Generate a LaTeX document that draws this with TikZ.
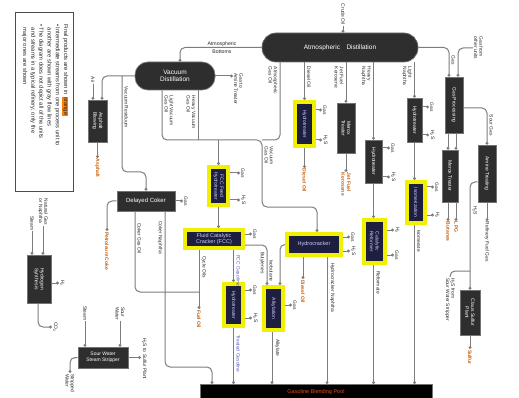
\documentclass[tikz,border=0pt]{standalone}
\usepackage{fontspec}
\setmainfont{Liberation Sans}
\usetikzlibrary{arrows.meta}
\definecolor{linegray}{RGB}{125,125,125}
\definecolor{boxdark}{RGB}{46,46,46}
\definecolor{navy}{RGB}{30,30,62}
\definecolor{hly}{RGB}{240,240,0}
\definecolor{lav}{RGB}{205,205,255}
\definecolor{prodor}{RGB}{200,96,10}
\definecolor{labgray}{RGB}{40,40,40}
\definecolor{bluelab}{RGB}{90,90,190}
\definecolor{poolred}{RGB}{225,80,30}
\tikzset{
 fl/.style={draw=linegray, line width=1pt, rounded corners=5pt, -{Circle[open,length=2.8pt,width=2.8pt]}},
 fj/.style={draw=linegray, line width=1pt, rounded corners=5pt},
 dbox/.style={draw=black!55, fill=boxdark, line width=0.7pt, inner sep=0pt, text=white},
 pill/.style={dbox, rounded corners=13pt, font=\fontsize{6.5}{7.5}\selectfont, align=center},
 ybox/.style={draw=hly, fill=navy, line width=4pt, inner sep=0pt, text=lav, font=\fontsize{5.5}{6.2}\selectfont, align=center},
 vtw/.style={rotate=-90, text=white, font=\fontsize{5}{5.6}\selectfont, align=center, inner sep=0pt},
 vty/.style={vtw, text=lav},
 slab/.style={rotate=-90, font=\fontsize{4.9}{5.4}\selectfont, inner sep=0.8pt, text=labgray, align=left},
 blab/.style={slab, text=bluelab},
 prod/.style={slab, text=prodor, font=\bfseries\fontsize{5}{5.6}\selectfont},
 hlab/.style={font=\fontsize{5.2}{8.5}\selectfont, text=labgray, align=center, inner sep=0pt},
 legbox/.style={draw=black!70, line width=1pt},
}
\newcommand\sideout[5]{\node[slab,anchor=south] (#1) at (#4,#3) {#5};\draw[fl] (#2.east |- #1.south) -- (#1.south);}
\newcommand\boxtext[3]{\node[#1] (#2T) at (#2) {#3};}
\begin{document}
\begin{tikzpicture}[x=1pt,y=-1pt]
\useasboundingbox (0,0) rectangle (519,398);
\fill[white] (0,0) rectangle (519,398);

% legend
\node[legbox, minimum width=58pt, minimum height=179pt] (legend) at (44,102.5) {};
\node[rotate=-90, anchor=north west, align=left, font=\fontsize{5.8}{8.2}\selectfont, text=labgray, inner sep=0pt] (legtext) at (68.5,24) {Final products are shown in {\setlength{\fboxsep}{0.5pt}\colorbox{orange}{orange}}\\• Intermediate streams from one process unit to\\\phantom{•} another are shown with gray flow lines\\• The diagram does not depict all of the units\\\phantom{•} and streams in a typical refinery; only the\\\phantom{•} major ones are shown};

% main units
\node[pill, minimum width=156pt, minimum height=29pt, rounded corners=14pt] (atm) at (340,47.5) {Atmospheric\quad Distillation};
\node[pill, minimum width=80pt, minimum height=28pt] (vac) at (175,76) {Vacuum\\Distillation};
\node[dbox, minimum width=19pt, minimum height=42pt] (asph) at (97.5,121) {};
\boxtext{vtw}{asph}{Asphalt\\Blowing}
\node[dbox, minimum width=58pt, minimum height=20pt, font=\fontsize{6}{7}\selectfont] (coker) at (146,201) {Delayed Coker};
\node[dbox, minimum width=24pt, minimum height=48pt] (h2syn) at (39,279) {};
\boxtext{vtw}{h2syn}{Hydrogen\\Synthesis}
\node[dbox, minimum width=50pt, minimum height=21pt, font=\fontsize{5}{6}\selectfont, align=center] (swss) at (103,357.5) {Sour Water\\Steam Stripper};
\node[ybox, minimum width=19pt, minimum height=38pt] (fccht) at (218.5,186) {};
\boxtext{vty}{fccht}{FCC Feed\\Hydrotreater}
\node[ybox, minimum width=58pt, minimum height=18pt] (fcc) at (214,239) {Fluid Catalytic\\Cracker (FCC)};
\node[ybox, minimum width=54pt, minimum height=21pt] (hc) at (314,244.5) {Hydrocracker};
\node[ybox, minimum width=19pt, minimum height=42pt] (htg) at (233.5,305) {};
\boxtext{vty}{htg}{Hydrotreater}
\node[ybox, minimum width=19pt, minimum height=43pt] (alk) at (273.5,308.5) {};
\boxtext{vty}{alk}{Alkylation}
\node[ybox, minimum width=19pt, minimum height=44pt] (dht) at (304.5,124) {};
\boxtext{vty}{dht}{Hydrotreater}
\node[dbox, minimum width=18pt, minimum height=50pt] (merox1) at (346,128) {};
\boxtext{vtw}{merox1}{Merox\\Treater}
\node[dbox, minimum width=17pt, minimum height=43pt] (nht) at (373.5,161.5) {};
\boxtext{vtw}{nht}{Hydrotreater}
\node[ybox, minimum width=21pt, minimum height=43pt] (ref) at (374.5,241.5) {};
\boxtext{vty}{ref}{Catalytic\\Reformer}
\node[dbox, minimum width=15pt, minimum height=44pt] (lnht) at (414.5,120) {};
\boxtext{vtw}{lnht}{Hydrotreater}
\node[ybox, minimum width=18pt, minimum height=41pt] (iso) at (416,202.5) {};
\boxtext{vty}{iso}{Isomerization}
\node[dbox, minimum width=18pt, minimum height=56pt] (gasp) at (454,105) {};
\boxtext{vtw}{gasp}{Gas Processing}
\node[dbox, minimum width=16pt, minimum height=52pt] (merox2) at (450,176) {};
\boxtext{vtw}{merox2}{Merox Treater}
\node[dbox, minimum width=18pt, minimum height=57pt] (amine) at (487,173.5) {};
\boxtext{vtw}{amine}{Amine Treating}
\node[dbox, minimum width=20pt, minimum height=45pt] (claus) at (470,312.5) {};
\boxtext{vtw}{claus}{Claus Sulfur\\Plant}
\node[dbox, fill=black, minimum width=232pt, minimum height=24pt, anchor=north] (pool) at (316,384) {};
\node[font=\fontsize{5.5}{6}\selectfont, text=poolred, inner sep=0pt] (poolT) at (316,392) {Gasoline Blending Pool};

% crude
\node[slab, anchor=west] (crude) at (343,3) {Crude Oil};
\draw[fl] (crude.east) -- (crude.east |- atm.north);

% atmospheric bottoms
\draw[fl] (atm.west) -| (vac.north -| 180,0);
\node[hlab] (atmbot) at (222,47.5) {Atmospheric\\Bottoms};

% vacuum overhead
\node[slab, anchor=south] (vacgas) at (233,89) {Gas to\\Amine Treater};
\draw[fl] (vac.east) -- (vacgas.south |- vac.east);

% asphalt
\draw[fl] (vac.west) -| (asph.north -| 102,0);
\node[slab, anchor=west] (air) at (93,76) {Air};
\draw[fl] (air.east) -- (asph.north -| air.east);
\node[prod, anchor=west] (asphalt) at (97.5,158) {Asphalt};
\draw[fl] (asph.south) -- (asphalt.west);

% residuum
\draw[fl] (vac.west -| 122,0) -- (122,172) -| (coker.north);
\node[slab, anchor=south west] (resid) at (123.5,86) {Vacuum Residuum};

% gas oils
\draw[fl] (vac.south -| 162,0) -- (162,140) -- (262,140) -- (262,207) -| (hc.north -| 317,0);
\draw[fj] (vac.south -| 198,0) -- (198,140);
\draw[fj] (atm.south -| 280,0) -- (280,140) -- (262,140);
\draw[fl] (fccht.north |- 0,140) -- (fccht.north);
\node[slab, anchor=south west] (lvgo) at (163.5,95) {Light Vacuum\\Gas Oil};
\node[slab, anchor=north west] (hvgo) at (196.5,95) {Heavy Vacuum\\Gas Oil};
\node[slab, anchor=north west] (ago) at (278.5,66) {Atmospheric\\Gas Oil};
\node[slab, anchor=south west] (vgo) at (263.5,146) {Vacuum\\Gas Oil};

% FCC
\draw[fl] (fccht.south) -- (fccht.south |- fcc.north);
\sideout{fccg1}{fccht}{173}{240}{Gas}
\sideout{fccg2}{fccht}{200}{240}{H\textsubscript{2}S}
\sideout{fccg3}{fcc}{234}{252}{Gas}
\draw[fl] (fcc.east |- 0,245) -| (alk.north -| 267,0);
\draw[fl] (hc.west) -| (alk.north -| 280,0);
\node[slab, anchor=north west] (butyl) at (265.5,251) {Butylenes};
\node[slab, anchor=south west] (ibut) at (268.5,259) {Isobutane};
\node[prod, anchor=west] (fueloil) at (199,309) {Fuel Oil};
\draw[fl] (fcc.south -| 199,0) -- (fueloil.west);
\node[slab, anchor=south west] (cycle) at (200.5,255) {Cycle Oils};
\draw[fl] (fcc.south -| htg.north) -- (htg.north);
\node[blab, anchor=south west] (fccgas) at (235.5,254) {FCC Gasoline};
\sideout{htg1}{htg}{290}{252}{Gas}
\sideout{htg2}{htg}{318}{252}{H\textsubscript{2}S}
\draw[fl] (htg.south) -- (htg.south |- pool.north);
\node[blab, anchor=south west] (tgas) at (235.5,334) {Treated Gasoline};
\sideout{alk1}{alk}{305}{292}{Gas}
\draw[fl] (alk.south -| 272,0) -- (pool.north -| 272,0);
\node[slab, anchor=south west] (alkyl) at (274,338) {Alkylate};

% hydrocracker
\sideout{hc1}{hc}{237}{350}{Gas}
\sideout{hc2}{hc}{251}{350}{H\textsubscript{2}S}
\node[prod, anchor=west] (hcdiesel) at (303,279) {Diesel Oil};
\draw[fl] (hc.south -| 303,0) -- (hcdiesel.west);
\draw[fl] (hc.south -| 327,0) -- (pool.north -| 327,0);
\node[slab, anchor=south west] (hcnap) at (329,262) {Hydrocracker Naphtha};

% coker
\sideout{cok1}{coker}{201}{183}{Gas}
\node[prod, anchor=west] (petcoke) at (107,231) {Petroleum Coke};
\draw[fl] (coker.west) -| (petcoke.west);
\draw[fj] (coker.south -| 135,0) -- (135,292) -- (199,292);
\node[slab, anchor=south west] (cgo) at (136.5,222) {Coker Gas Oil};
\draw[fl] (coker.south -| 165,0) -- (165,367) -- (212,367) -- (pool.north -| 212,0);
\node[slab, anchor=north west] (cnap) at (163.5,220) {Coker Naphtha};

% hydrogen synthesis
\node[slab, anchor=west] (steam1) at (32,215) {Steam};
\draw[fl] (steam1.east) -- (steam1.east |- h2syn.north);
\node[slab, anchor=west] (natgas) at (43,198) {Natural Gas\\or Naphtha};
\draw[fl] (natgas.east) -- (natgas.east |- h2syn.north);
\sideout{h2out}{h2syn}{283}{59}{H\textsubscript{2}}
\node[slab, anchor=south] (co2) at (52,327) {CO\textsubscript{2}};
\draw[fl] (h2syn.south -| 38,0) |- (co2.south);

% sour water stripper
\node[slab, anchor=west] (steam2) at (85,305) {Steam};
\draw[fl] (steam2.east) -- (steam2.east |- swss.north);
\node[slab, anchor=west] (sourw) at (120,306) {Sour\\Water};
\draw[fl] (sourw.east) -- (sourw.east |- swss.north);
\node[slab, anchor=south west] (swsh2s) at (141,337) {H\textsubscript{2}S to Sulfur Plant};
\draw[fl] (swss.east) -- (swss.east -| swsh2s.south west);
\node[slab, anchor=west] (strip) at (70,373) {Stripped\\Water};
\draw[fl] (swss.west) -| (strip.west);

% diesel
\draw[fl] (atm.south -| dht.north) -- (dht.north);
\node[slab, anchor=south west] (dieselin) at (306,66) {Diesel Oil};
\sideout{dht1}{dht}{110}{322}{Gas}
\sideout{dht2}{dht}{140}{322}{H\textsubscript{2}S}
\node[prod, anchor=west] (dieselout) at (304.5,168) {Diesel Oil};
\draw[fl] (dht.south) -- (dieselout.west);

% kerosene
\draw[fl] (atm.south -| merox1.north) -- (merox1.north);
\node[slab, anchor=north west] (kero) at (344.5,66) {Jet Fuel\\Kerosene};
\node[prod, anchor=west] (jetout) at (346,172) {Jet Fuel\\Kerosene};
\draw[fl] (merox1.south) -- (jetout.west);

% heavy naphtha
\draw[fl] (atm.south -| nht.north) -- (nht.north);
\node[slab, anchor=north west] (hnap) at (372,66) {Heavy\\Naphtha};
\sideout{nht1}{nht}{148}{390}{Gas}
\sideout{nht2}{nht}{177}{390}{H\textsubscript{2}S}
\draw[fl] (nht.south) -- (nht.south |- ref.north);
\sideout{ref1}{ref}{230}{394}{H\textsubscript{2}}
\sideout{ref2}{ref}{255}{394}{Gas}
\draw[fl] (ref.south -| nht.south) -- (nht.south |- pool.north);
\node[slab, anchor=south west] (reformate) at (375.5,270) {Reformate};

% light naphtha
\draw[fl] (atm.south -| lnht.north) -- (lnht.north);
\node[slab, anchor=north west] (lnap) at (413,66) {Light\\Naphtha};
\sideout{ln1}{lnht}{107}{429}{Gas}
\sideout{ln2}{lnht}{135}{429}{H\textsubscript{2}S}
\draw[fl] (lnht.south) -- (lnht.south |- iso.north);
\sideout{iso1}{iso}{187}{434}{Gas}
\sideout{iso2}{iso}{215}{434}{H\textsubscript{2}}
\draw[fl] (iso.south -| lnht.south) -- (lnht.south |- pool.north);
\node[slab, anchor=south west] (isomerate) at (416,229) {Isomerate};

% gas
\draw[fl] (atm.east) -| (gasp.north -| 449,0);
\node[slab, anchor=south west] (gaslab) at (450.5,55) {Gas};
\node[slab, anchor=south] (othergas) at (473,48) {Gas from\\other units};
\draw[fl] (othergas.south) -| (gasp.north -| 458,0);
\draw[fl] (gasp.east |- 0,108) -| (amine.north -| 487,0);
\node[slab, anchor=south west] (sourgas) at (488.5,114) {Sour Gas};
\draw[fl] (gasp.south -| 448,0) -- (merox2.north -| 448,0);
\draw[fl] (gasp.south -| 456,0) -- (merox2.north -| 456,0);
\node[prod, anchor=west] (butanes) at (448,221) {Butanes};
\node[prod, anchor=west] (lpg) at (456,221) {LPG};
\draw[fl] (merox2.south -| butanes.west) -- (butanes.west);
\draw[fl] (merox2.south -| lpg.west) -- (lpg.west);
\node[slab, anchor=west] (rfg) at (487,221) {Refinery Fuel Gas};
\draw[fl] (amine.south) -- (rfg.west);
\draw[fl] (amine.west |- 0,182) -| (claus.north);
\node[slab, anchor=south west] (aminh2s) at (471.5,205) {H\textsubscript{2}S};
\node[slab, anchor=west] (swsin) at (450,277) {H\textsubscript{2}S from\\Sour Water Stripper};
\draw[fj] (swsin.west) |- (claus.north |- 0,271);
\node[prod, anchor=west] (sulfur) at (470,349) {Sulfur};
\draw[fl] (claus.south) -- (sulfur.west);
\end{tikzpicture}
\end{document}
